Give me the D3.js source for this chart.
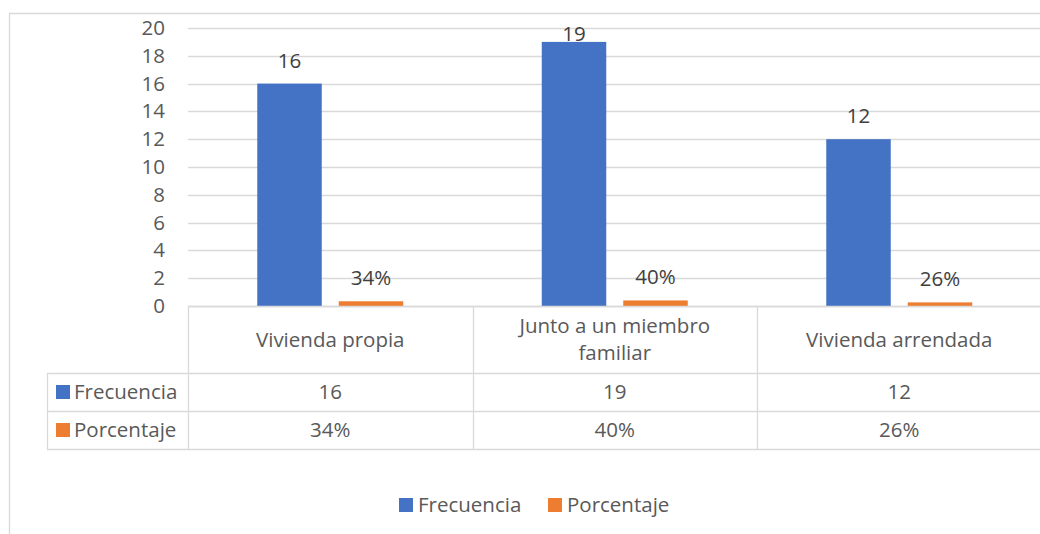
<!DOCTYPE html>
<html>
<head>
<meta charset="utf-8">
<script src="https://cdn.jsdelivr.net/npm/d3@7"></script>
<style>
  body { margin: 0; background: #fff; }
  svg { display: block; font-family: 'Open Sans', sans-serif; }
</style>
</head>
<body>
<svg width="1040" height="534"></svg>
<script>
const categories = ['Vivienda propia', 'Junto a un miembro familiar', 'Vivienda arrendada'];
const seriesNames = ['Frecuencia', 'Porcentaje'];
const frecuencia = [16, 19, 12];
const porcentaje = [0.34, 0.40, 0.26];
const porcentajeLabels = ['34%', '40%', '26%'];
const yTicks = [0, 2, 4, 6, 8, 10, 12, 14, 16, 18, 20];

const colors = { Frecuencia: '#4472c4', Porcentaje: '#ed7d31' };
const gridColor = '#d9d9d9';
const textColor = '#595959';
const fontSize = 20.5;

const svg = d3.select('svg');

const plot = { left: 188, top: 28, bottom: 306, catWidth: 284.5 };
const tableRows = [306, 373, 411, 449];
const tableLeft = 47;

// frame
svg.append('path')
      .attr('d', `M9.5,534 V13.5 H1040`)
      .attr('fill', 'none')
      .attr('stroke', gridColor)
      .attr('stroke-width', 1.3);

const x = d3.scaleBand()
      .domain(categories)
      .range([plot.left, plot.left + plot.catWidth * categories.length]);
const xInner = d3.scaleBand()
      .domain(seriesNames)
      .range([0, x.bandwidth()])
      .paddingInner(0.2086)
      .paddingOuter(0.85);
const y = d3.scaleLinear()
      .domain([0, 20])
      .range([plot.bottom, plot.top]);

// gridlines
svg.append('g')
      .selectAll('line')
      .data(yTicks)
      .enter()
      .append('line')
      .attr('x1', plot.left)
      .attr('x2', 1040)
      .attr('y1', d => Math.round(y(d)) + 0.5)
      .attr('y2', d => Math.round(y(d)) + 0.5)
      .attr('stroke', gridColor)
      .attr('stroke-width', 1.3);

// y axis labels
const yAxis = d3.axisLeft(y).tickValues(yTicks).tickSize(0).tickPadding(0);
const yg = svg.append('g')
      .attr('transform', `translate(165,0)`)
      .call(yAxis);
yg.select('.domain').remove();
yg.selectAll('text')
      .attr('fill', textColor)
      .style('font-size', fontSize + 'px')
      .style('font-family', "'Open Sans', sans-serif");

// bars
const seriesData = [
      { name: 'Frecuencia', values: frecuencia, labels: frecuencia.map(String) },
      { name: 'Porcentaje', values: porcentaje, labels: porcentajeLabels }
];

seriesData.forEach(s => {
      const g = svg.append('g');
      g.selectAll('rect')
            .data(s.values)
            .enter()
            .append('rect')
            .attr('x', (d, i) => x(categories[i]) + xInner(s.name))
            .attr('y', d => y(d))
            .attr('width', xInner.bandwidth())
            .attr('height', d => y(0) - y(d))
            .attr('fill', colors[s.name]);
      // labels stay inside the plot area, like Excel does
      g.selectAll('text')
            .data(s.values)
            .enter()
            .append('text')
            .attr('x', (d, i) => x(categories[i]) + xInner(s.name) + xInner.bandwidth() / 2)
            .attr('y', d => Math.max(y(d) - 16, plot.top + 13))
            .attr('text-anchor', 'middle')
            .attr('fill', '#404040')
            .style('font-size', fontSize + 'px')
            .text((d, i) => s.labels[i]);
});

// data table
const table = svg.append('g').attr('stroke', gridColor).attr('stroke-width', 1.3);
table.append('line').attr('x1', plot.left).attr('x2', 1040).attr('y1', tableRows[0] + 0.5).attr('y2', tableRows[0] + 0.5);
tableRows.slice(1).forEach(r => {
      table.append('line').attr('x1', tableLeft).attr('x2', 1040).attr('y1', r + 0.5).attr('y2', r + 0.5);
});
table.append('line').attr('x1', tableLeft + 0.5).attr('x2', tableLeft + 0.5).attr('y1', tableRows[1]).attr('y2', tableRows[3]);
categories.forEach(c => {
      const xv = Math.round(x(c)) + 0.5;
      table.append('line').attr('x1', xv).attr('x2', xv).attr('y1', tableRows[0]).attr('y2', tableRows[3]);
});

// category labels with wrap
const catLabels = svg.append('g');
categories.forEach(c => {
      const cx = x(c) + x.bandwidth() / 2;
      const t = catLabels.append('text')
            .attr('x', cx)
            .attr('text-anchor', 'middle')
            .attr('fill', textColor)
            .style('font-size', fontSize + 'px');
      const words = c.split(' ');
      let lines = [];
      let line = [];
      words.forEach(w => {
            line.push(w);
            t.text(line.join(' '));
            if (t.node().getComputedTextLength() > 240 && line.length > 1) {
                  line.pop();
                  lines.push(line.join(' '));
                  line = [w];
            }
      });
      lines.push(line.join(' '));
      t.text(null);
      const mid = (tableRows[0] + tableRows[1]) / 2;
      const lh = 27;
      lines.forEach((l, i) => {
            t.append('tspan')
                  .attr('x', cx)
                  .attr('y', mid + (i - (lines.length - 1) / 2) * lh)
                  .attr('dy', '0.35em')
                  .text(l);
      });
});

// table rows
seriesData.forEach((s, r) => {
      const mid = (tableRows[r + 1] + tableRows[r + 2]) / 2;
      svg.append('rect')
            .attr('x', 56)
            .attr('y', mid - 7)
            .attr('width', 14)
            .attr('height', 14)
            .attr('fill', colors[s.name]);
      svg.append('text')
            .attr('x', 74)
            .attr('y', mid)
            .attr('dy', '0.35em')
            .attr('fill', textColor)
            .style('font-size', fontSize + 'px')
            .text(s.name);
      svg.append('g')
            .selectAll('text')
            .data(s.labels)
            .enter()
            .append('text')
            .attr('x', (d, i) => x(categories[i]) + x.bandwidth() / 2)
            .attr('y', mid)
            .attr('dy', '0.35em')
            .attr('text-anchor', 'middle')
            .attr('fill', textColor)
            .style('font-size', fontSize + 'px')
            .text(d => d);
});

// legend
const legendX = [399, 548];
const legend = svg.append('g');
seriesNames.forEach((n, i) => {
      legend.append('rect')
            .attr('x', legendX[i])
            .attr('y', 498)
            .attr('width', 14)
            .attr('height', 14)
            .attr('fill', colors[n]);
      legend.append('text')
            .attr('x', legendX[i] + 19)
            .attr('y', 505)
            .attr('dy', '0.35em')
            .attr('fill', textColor)
            .style('font-size', fontSize + 'px')
            .text(n);
});
</script>
</body>
</html>
